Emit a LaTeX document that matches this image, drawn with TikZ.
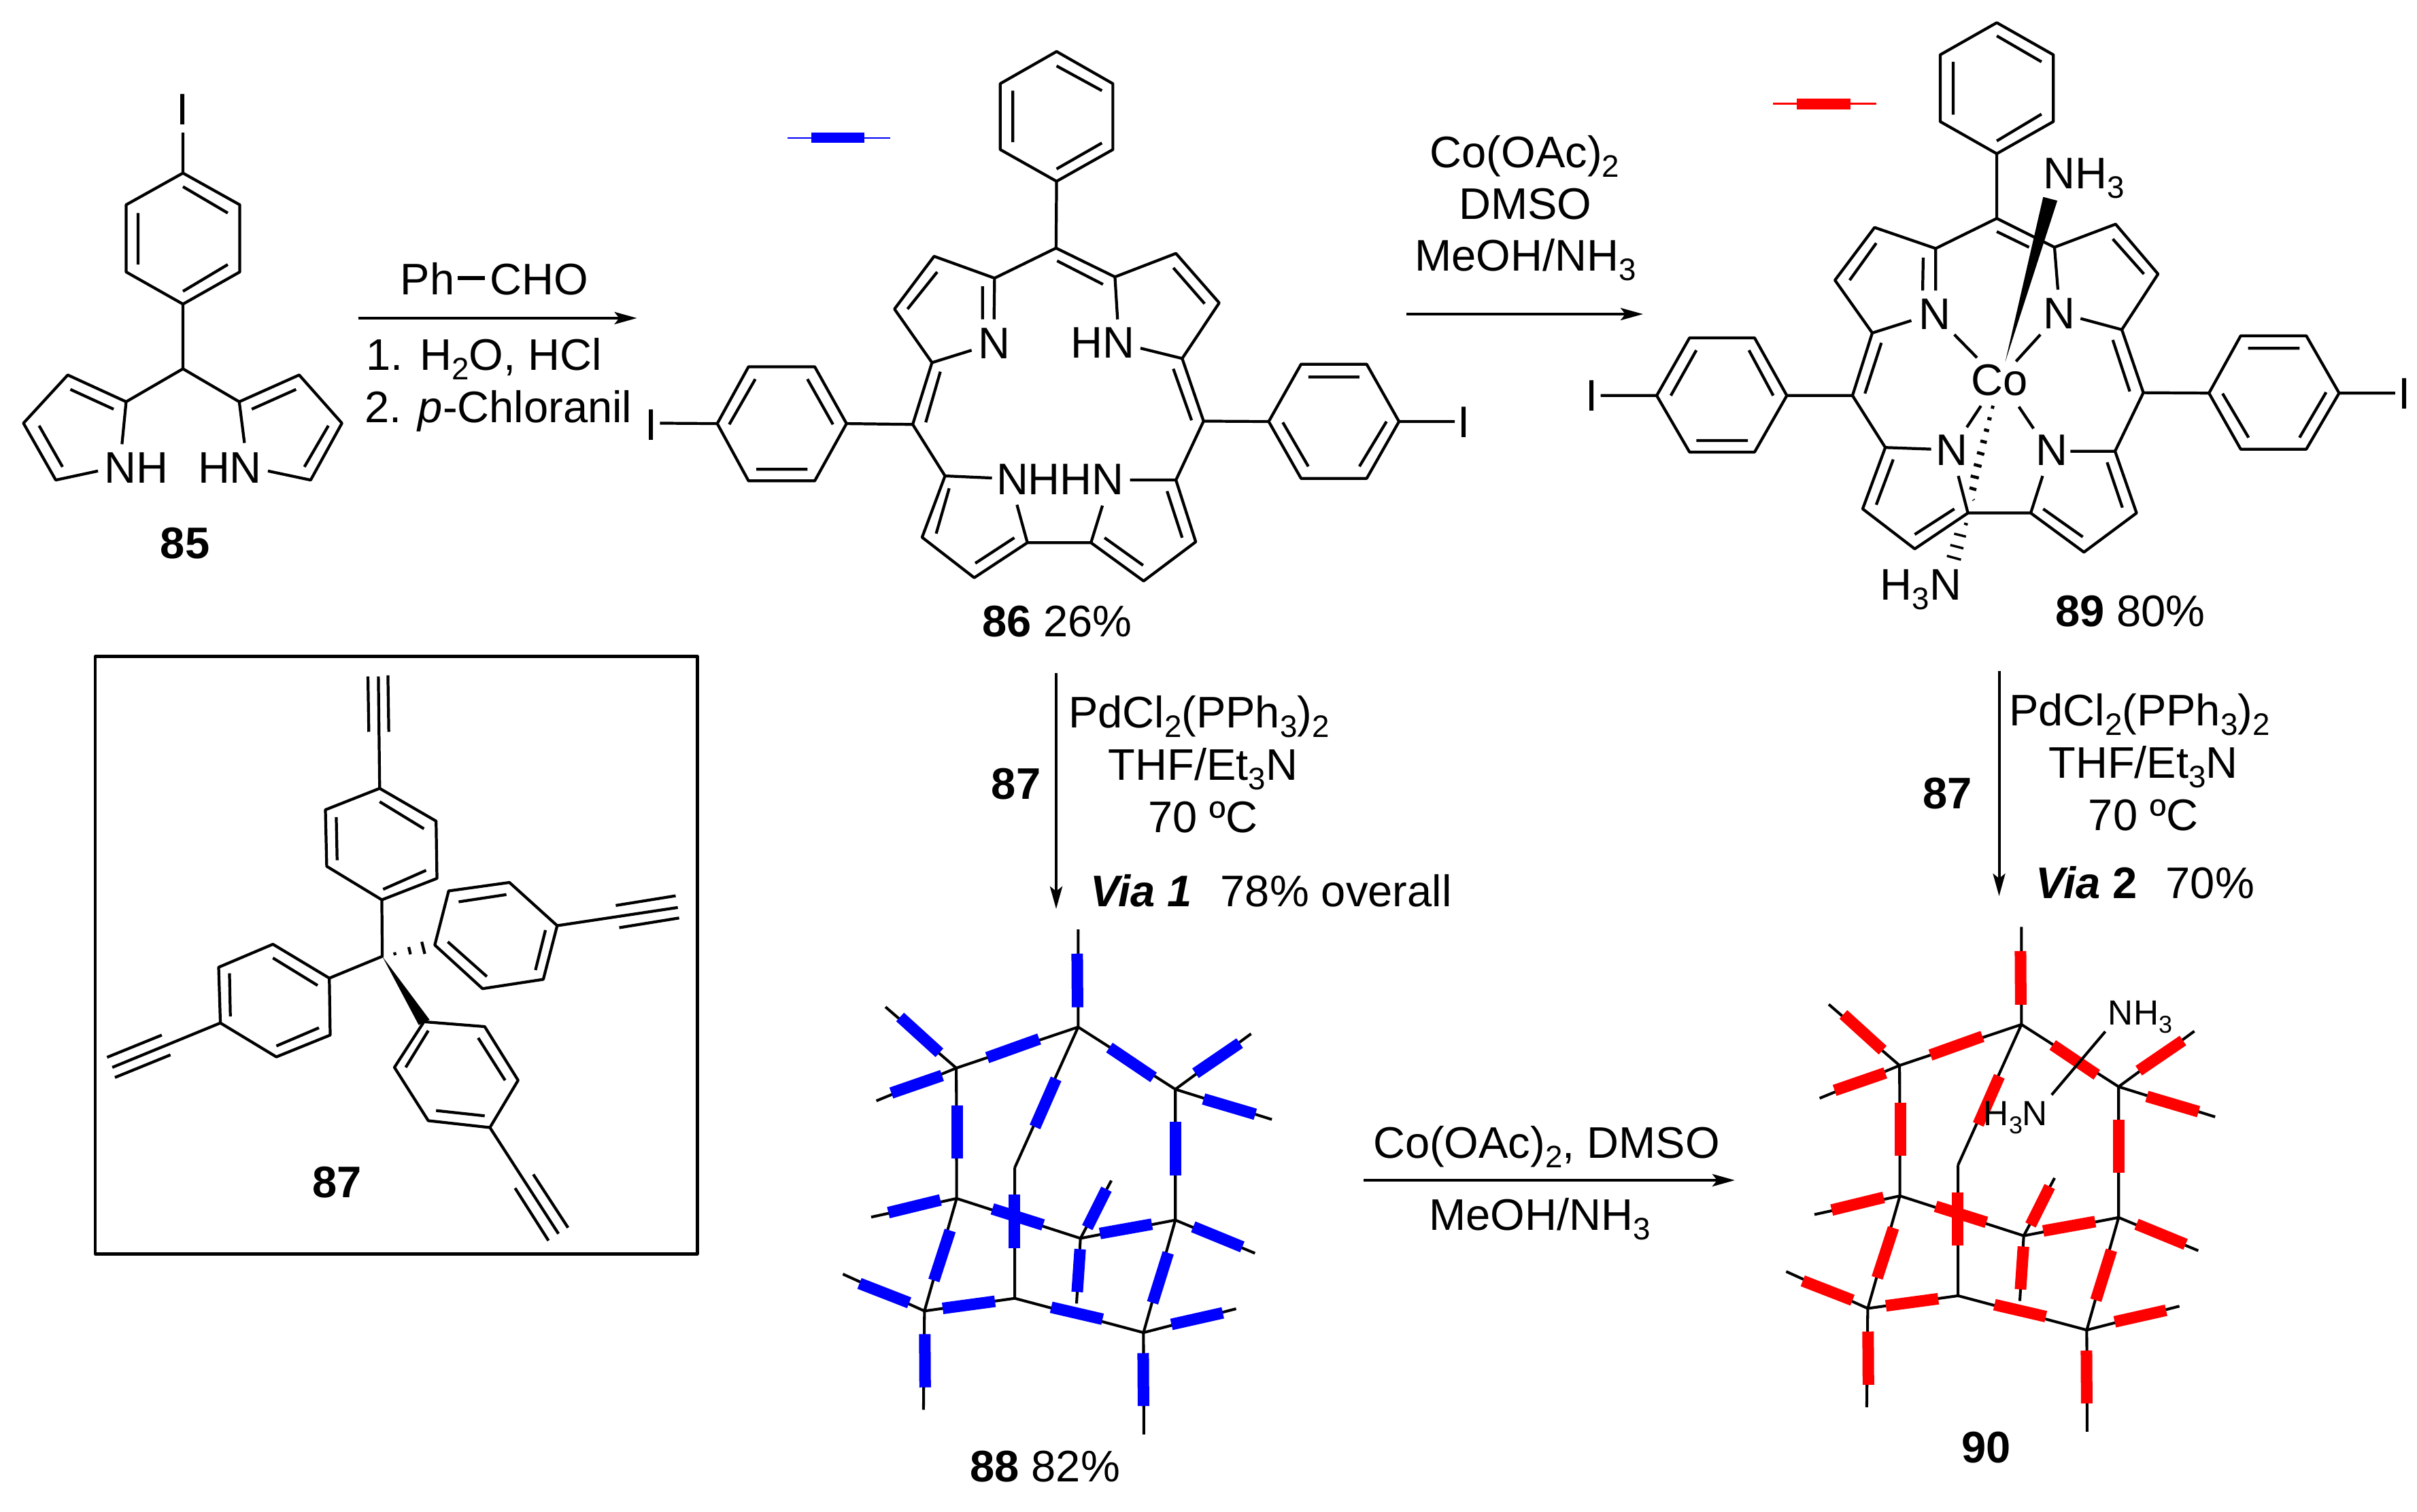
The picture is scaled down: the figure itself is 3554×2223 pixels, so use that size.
\documentclass[tikz,border=0pt]{standalone}
\usepackage{fontspec}
\setmainfont{Liberation Sans}
\usetikzlibrary{arrows.meta}
\newcommand\lsub[1]{\raisebox{-4pt}{\fontsize{13}{13}\selectfont #1}}
\newcommand\lsubs[1]{\raisebox{-3.2pt}{\fontsize{10.2}{10.2}\selectfont #1}}
\newcommand\lcage[1]{%
  \coordinate (A) at (805,310); \coordinate (B) at (430,420); \coordinate (C) at (1104,477);
  \coordinate (D) at (431,770); \coordinate (E) at (1104,828); \coordinate (F) at (610,687);
  \coordinate (G) at (812,877); \coordinate (H) at (610,1038); \coordinate (J) at (332,1072);
  \coordinate (K) at (1006,1130);
  \draw[cagebond] (F)--(A)--(B)--(D)--(G)--(E)--(C)--(A) (F)--(H)--(J)--(D) (H)--(K)--(E);
  \draw[cagebond] (A)--(805,48) (B)--(212,256) (B)--(184,508) (C)--(1337,328) (C)--(1401,558)
    (D)--(168,820) (E)--(1349,917) (G)--(907,722) (G)--(800,1052) (J)--(81,973) (J)--(329,1337)
    (K)--(1291,1066) (K)--(1007,1403);
  \draw[rod=#1] (802,113)--(803,257);
  \draw[rod=#1] (525,392)--(685,342);
  \draw[rod=#1] (901,365)--(1037,445);
  \draw[rod=#1] (737,449)--(672,578);
  \draw[rod=#1] (257,283)--(378,379);
  \draw[rod=#1] (230,487)--(386,440);
  \draw[rod=#1] (432,520)--(432,663);
  \draw[rod=#1] (1104,565)--(1104,708);
  \draw[rod=#1] (1166,434)--(1302,353);
  \draw[rod=#1] (1191,503)--(1350,544);
  \draw[rod=#1] (221,808)--(381,774);
  \draw[rod=#1] (541,798)--(697,841);
  \draw[rod=#1] (609,760)--(609,903);
  \draw[rod=#1] (892,745)--(833,848);
  \draw[rod=#1] (811,906)--(802,1021);
  \draw[rod=#1] (872,864)--(1032,839);
  \draw[rod=#1] (411,856)--(361,990);
  \draw[rod=#1] (1082,916)--(1034,1050);
  \draw[rod=#1] (1159,846)--(1310,900);
  \draw[rod=#1] (132,998)--(285,1050);
  \draw[rod=#1] (388,1065)--(549,1046);
  \draw[rod=#1] (333,1134)--(334,1277);
  \draw[rod=#1] (722,1062)--(880,1094);
  \draw[rod=#1] (1092,1108)--(1250,1077);
  \draw[rod=#1] (1005,1185)--(1006,1327);
}
\tikzset{
  x=0.01cm,y=-0.01cm,
  bond/.style={line width=1.2pt,line join=round},
  cagebond/.style={line width=1.15pt,line join=round},
  rod/.style={line width=0.17cm,draw=#1},
  rxn/.style={line width=1.15pt,-{Stealth[length=.33cm,width=.18cm,inset=.07cm]}},
  rxnb/.style={line width=1.4pt,-{Stealth[length=.33cm,width=.18cm,inset=.07cm]}},
  chem/.style={inner sep=0pt,outer sep=0pt,anchor=base,font=\fontsize{18.5}{18.5}\selectfont},
  chemw/.style={chem,anchor=base west},
  chems/.style={chemw,font=\fontsize{14.6}{14.6}\selectfont},
  zA/.style={x=0.007653cm,y=-0.006059cm},
  zC/.style={x=0.008316cm,y=-0.006059cm,shift={(22.5cm,0cm)}},
  zD/.style={x=0.006378cm,y=-0.005931cm,shift={(1cm,-9.5cm)}},
  zE/.style={x=0.004783cm,y=-0.005485cm},
}
\begin{document}
\begin{tikzpicture}
\useasboundingbox (0,0) rectangle (3554,2223);

%% ---------- 85 and first reaction
\begin{scope}[zA]
  \draw[bond] (351,420)--(460,497)--(460,660)--(351,738)--(242,660)--(242,497)--cycle
    (351,453)--(437,517) (265,517)--(265,642) (351,707)--(437,642)
    (351,322)--(351,420) (351,738)--(351,895)
    (242,975)--(351,895)--(459,975)
    (188,1143)--(107,1165)--(45,1027)--(130,910)--(242,975)--(234,1078)
    (218,993)--(135,945) (75,1033)--(120,1133)
    (514,1143)--(596,1165)--(656,1027)--(574,910)--(459,975)--(469,1075)
    (483,993)--(568,945) (630,1033)--(584,1133);
  \node[chem] (i85) at (351,302) {I};
  \node[chem] (nh85) at (262,1172) {NH};
  \node[chem] (hn85) at (441,1172) {HN};
  \node[chem] (l85) at (355,1355) {\textbf{85}};
  \coordinate (r1s) at (687,772); \coordinate (r1e) at (1222,772);
  \draw[rxn] (r1s)--(r1e);
  \node[chemw] (ph) at (768,715) {Ph};
  \draw[line width=1.5pt] (878,675)--(930,675);
  \node[chemw] (cho) at (940,715) {CHO};
  \node[chemw] (c1) at (703,898) {1. H\lsub{2}O, HCl};
  \node[chemw] (c2) at (700,1025) {2. \textit{p}-Chloranil};
\end{scope}

%% ---------- 86
\begin{scope}[zA,shift={(11cm,0cm)}]
  \draw[line width=0.75pt,blue] (75,335)--(272,335);
  \fill[blue] (120,322) rectangle (222,347);
  \draw[bond] (591,125)--(699,203)--(699,363)--(591,440)--(483,363)--(483,203)--cycle
    (591,160)--(678,220) (507,220)--(507,345) (591,410)--(678,347)
    (591,440)--(590,602)
    (188,1028)--(127,890)--(0,890)--(-60,1028)--(0,1167)--(127,1167)--cycle
    (113,920)--(162,1030) (15,1139)--(113,1139) (-37,1030)--(13,920)
    (-170,1027)--(-60,1028) (188,1028)--(315,1030)
    (315,1030)--(352,880) (340,1025)--(368,902) (315,1030)--(377,1155)
    (428,850)--(352,880)--(280,750)--(356,622)--(472,675)--(471,775)
    (449,695)--(449,775) (305,750)--(362,660)
    (472,675)--(590,602)--(703,672)--(708,775) (592,633)--(680,690)
    (703,672)--(820,615)--(903,735)--(832,870)--(752,845)
    (815,650)--(875,737)
    (832,870)--(873,1022) (815,895)--(850,1020)
    (873,1022)--(998,1023)
    (998,1023)--(1060,884)--(1186,884)--(1248,1023)--(1186,1161)--(1060,1161)--cycle
    (1074,915)--(1172,915) (1025,1025)--(1074,1132) (1172,1132)--(1224,1023)
    (1248,1023)--(1355,1023)
    (873,1022)--(820,1165)--(732,1165)
    (820,1165)--(858,1315)--(758,1410)--(657,1317)--(535,1317)--(433,1402)--(333,1304)--(377,1155)--(467,1160)
    (535,1317)--(515,1225) (657,1317)--(679,1227)
    (803,1192)--(832,1305) (757,1372)--(683,1305) (510,1305)--(435,1367) (385,1185)--(360,1295);
  \node[chem] (il86) at (-187,1068) {I};
  \node[chem] (ir86) at (1373,1062) {I};
  \node[chem] (n86) at (471,870) {N};
  \node[chem] (hn86) at (680,868) {HN};
  \node[chem] (nhhn86) at (598,1200) {NHHN};
  \node[chem] (l86) at (592,1545) {\textbf{86} 26\%};
\end{scope}

%% ---------- reaction 86 -> 89
\coordinate (r2s) at (2068,462); \coordinate (r2e) at (2416,462);
\draw[rxn] (r2s)--(r2e);
\node[chem] (t2a) at (2242,246) {Co(OAc)\lsub{2}};
\node[chem] (t2b) at (2243,322) {DMSO};
\node[chem] (t2c) at (2243,398) {MeOH/NH\lsub{3}};

%% ---------- 89
\begin{scope}[zC]
  \draw[line width=0.75pt,red] (428,252)--(610,252);
  \fill[red] (470,239) rectangle (565,266);
  \draw[bond] (823,55)--(923,133)--(923,295)--(823,373)--(723,295)--(723,133)--cycle
    (823,87)--(902,150) (746,150)--(746,278) (823,342)--(902,277)
    (823,373)--(823,530)
    (715,603)--(823,530)--(925,600) (823,562)--(880,600)
    (672,778)--(603,808)--(537,680)--(607,552)--(715,603)--(715,705)
    (693,625)--(692,705) (610,590)--(563,680)
    (748,812)--(788,868)
    (931,703)--(925,600)--(1033,544)--(1108,665)--(1044,800)--(971,773)
    (1028,580)--(1083,665)
    (900,812)--(857,877)
    (603,808)--(568,960) (619,832)--(590,955) (568,960)--(452,960)
    (452,960)--(395,820)--(280,820)--(222,960)--(280,1097)--(395,1097)--cycle
    (385,850)--(428,960) (292,1069)--(383,1069) (247,960)--(292,850)
    (222,960)--(123,960)
    (568,960)--(626,1086)--(707,1090)
    (626,1086)--(586,1235)--(678,1332)--(772,1245)--(883,1245)--(977,1340)--(1070,1245)--(1032,1095)--(953,1095)
    (772,1245)--(755,1155) (883,1245)--(904,1155)
    (640,1115)--(610,1225) (678,1297)--(748,1235) (905,1235)--(975,1303) (1018,1122)--(1045,1232)
    (795,985)--(770,1037) (862,987)--(888,1040)
    (1044,800)--(1082,953) (1028,825)--(1058,950) (1082,953)--(1198,954)
    (1198,954)--(1254,815)--(1370,815)--(1428,954)--(1370,1090)--(1254,1090)--cycle
    (1267,845)--(1358,845) (1222,955)--(1268,1062) (1358,1062)--(1405,952)
    (1428,954)--(1527,954)
    (1082,953)--(1032,1095);
  \fill (838,878)--(905,478)--(930,487)--cycle;
  \node[chem] (il89) at (107,997) {I};
  \node[chem] (ir89) at (1543,992) {I};
  \node[chem] (n1) at (713,800) {N};
  \node[chem] (n2) at (933,797) {N};
  \node[chem] (n3) at (743,1130) {N};
  \node[chem] (n4) at (920,1130) {N};
  \node[chem] (co) at (828,960) {Co};
  \node[chemw] (nh3a) at (905,458) {NH\lsub{3}};
  \node[chem] (l89) at (1059,1520) {\textbf{89} 80\%};
\end{scope}
\begin{scope}[x=0.003333cm,y=-0.003333cm,shift={(27.5cm,-5.6cm)}]
  \draw[line width=1.3pt] (529,114)--(543,118) (513,165)--(531,169) (498,215)--(520,221)
    (482,265)--(510,272) (467,316)--(499,325) (453,369)--(487,378) (439,420)--(475,429)
    (434,472)--(464,481) (451,524)--(453,527);
  \draw[line width=1pt] (410,630)--(426,635) (366,675)--(418,688) (349,725)--(407,740) (334,773)--(396,790);
  \node[chemw] (h3na) at (40,968) {H\lsub{3}N};
\end{scope}

%% ---------- box with 87
\begin{scope}[zD]
  \draw[bond] (63,25) rectangle (1450,1505);
  \draw[bond] (691,75)--(693,212) (715,75)--(718,352) (737,72)--(739,212)
    (718,352)--(848,433)--(850,575)--(723,628)--(596,545)--(593,405)--cycle
    (718,385)--(820,452) (825,555)--(726,602) (620,530)--(618,423)
    (723,628)--(724,768)--(602,822)
    (602,822)--(472,738)--(347,795)--(351,933)--(480,1017)--(604,963)--cycle
    (575,840)--(472,772) (372,810)--(374,917) (480,990)--(578,945)
    (351,933)--(102,1043) (90,1018)--(216,963) (108,1068)--(236,1012)
    (820,930)--(960,942)--(1037,1075)--(972,1192)--(830,1175)--(752,1043)--cycle
    (945,970)--(1007,1075) (960,1163)--(848,1150) (778,1043)--(830,952)
    (972,1192)--(1130,1455) (1030,1342)--(1107,1472) (1072,1308)--(1152,1440)
    (845,740)--(877,606)--(1017,585)--(1127,692)--(1095,825)--(955,848)--cycle
    (900,633)--(1010,615) (1100,703)--(1077,802) (965,818)--(875,732)
    (1127,692)--(1405,647) (1262,642)--(1400,618) (1270,697)--(1408,673);
  \fill (724,768)--(808,938)--(833,925)--cycle;
  \draw[bond] (752,758)--(754,765) (785,745)--(789,763) (815,732)--(822,762);
  \node[chem] (l87) at (620,1365) {\textbf{87}};
\end{scope}

%% ---------- vertical reaction 86 -> 88
\coordinate (r3s) at (1553,990); \coordinate (r3e) at (1553,1337);
\draw[rxnb] (r3s)--(r3e);
\node[chemw] (t3a) at (1571,1070) {PdCl\lsub{2}(PPh\lsub{3})\lsub{2}};
\node[chem] (t3b) at (1769,1147) {THF/Et\lsub{3}N};
\node[chem] (t3c) at (1769,1224) {70 ºC};
\node[chemw] (t3d) at (1603,1333) {\textbf{\textit{Via 1}}\hspace{0.65em}78\% overall};
\node[chem] (t3e) at (1494,1175) {\textbf{87}};

%% ---------- vertical reaction 89 -> 90
\coordinate (r4s) at (2939.5,987); \coordinate (r4e) at (2939.5,1318);
\draw[rxn] (r4s)--(r4e);
\node[chemw] (t4a) at (2954,1067) {PdCl\lsub{2}(PPh\lsub{3})\lsub{2}};
\node[chem] (t4b) at (3151.5,1144) {THF/Et\lsub{3}N};
\node[chem] (t4c) at (3151.5,1221) {70 ºC};
\node[chemw] (t4d) at (2993,1321) {\textbf{\textit{Via} 2}\hspace{0.65em}70\%};
\node[chem] (t4e) at (2863.5,1189) {\textbf{87}};

%% ---------- reaction 88 -> 90
\coordinate (r5s) at (2005,1736); \coordinate (r5e) at (2551,1736);
\draw[rxnb] (r5s)--(r5e);
\node[chem] (t5a) at (2274,1703) {Co(OAc)\lsub{2}, DMSO};
\node[chem] (t5b) at (2264,1809) {MeOH/NH\lsub{3}};

%% ---------- 88
\begin{scope}[zE,shift={(12cm,-13.4cm)}]
  \lcage{blue}
  \node[chem] (l88) at (703,1530) {\textbf{88} 82\%};
\end{scope}

%% ---------- 90
\begin{scope}[zE,shift={(25.862cm,-13.362cm)}]
  \lcage{red}
\end{scope}
\begin{scope}[zE,shift={(25.9cm,-13.4cm)}]
  \draw[cagebond] (1055,322)--(890,492);
  \node[chems] (nh3b) at (1064,305) {NH\lsubs{3}};
  \node[chems] (h3nb) at (681,575) {H\lsubs{3}N};
  \node[chem] (l90) at (688,1480) {\textbf{90}};
\end{scope}
\end{tikzpicture}
\end{document}
